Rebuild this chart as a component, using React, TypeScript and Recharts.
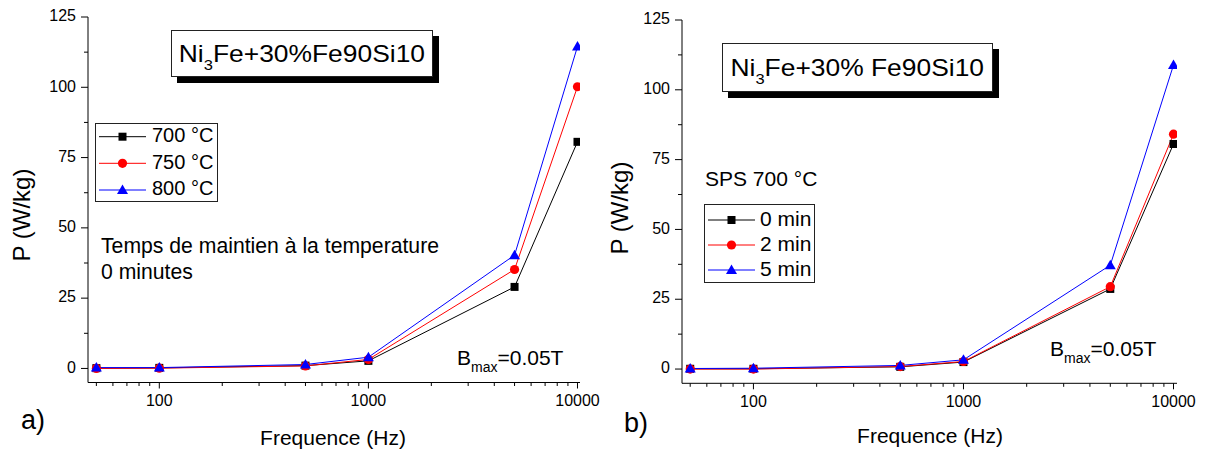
import React from 'react';
import { LineChart, Line, XAxis, YAxis } from 'recharts';

const FREQ = [50, 100, 500, 1000, 5000, 10000];
const A_700 = [0.1, 0.2, 1.0, 2.7, 29.0, 80.6];
const A_750 = [0.0, 0.1, 0.9, 3.2, 35.2, 100.2];
const A_800 = [0.3, 0.3, 1.4, 4.0, 40.3, 114.5];
const B_0 = [0.1, 0.1, 0.8, 2.5, 28.7, 80.6];
const B_2 = [0.0, 0.0, 0.9, 2.7, 29.5, 84.1];
const B_5 = [0.2, 0.3, 1.3, 3.3, 37.2, 108.9];

const X_MAJOR = [100, 1000, 10000];
const X_MINOR = [50, 60, 70, 80, 90, 200, 300, 400, 500, 600, 700, 800, 900, 2000, 3000, 4000, 5000, 6000, 7000, 8000, 9000];
const Y_MAJOR = [0, 25, 50, 75, 100, 125];
const Y_MINOR = [12.5, 37.5, 62.5, 87.5, 112.5];

const LEGEND_A = ['700 °C', '750 °C', '800 °C'];
const LEGEND_B = ['0 min', '2 min', '5 min'];

const FONT = '"Liberation Sans", Arial, Helvetica, sans-serif';
const COLORS = ['#000000', '#ff0000', '#0000ff'];

function buildData(a: number[], b: number[], c: number[]) {
  return FREQ.map((f, i) => ({ f, s0: a[i], s1: b[i], s2: c[i] }));
}

const Square = (p: any) => {
  const { cx, cy, index } = p;
  if (cx == null || cy == null) return <g key={'sq' + index} />;
  return <rect key={'sq' + index} x={cx - 4} y={cy - 4} width={8} height={8} fill="#000" />;
};
const Circle = (p: any) => {
  const { cx, cy, index } = p;
  if (cx == null || cy == null) return <g key={'ci' + index} />;
  return <circle key={'ci' + index} cx={cx} cy={cy} r={4.6} fill="#ff0000" />;
};
const Tri = (p: any) => {
  const { cx, cy, index } = p;
  if (cx == null || cy == null) return <g key={'tr' + index} />;
  return <path key={'tr' + index} d={`M${cx},${cy - 5.5} L${cx + 5.5},${cy + 4} L${cx - 5.5},${cy + 4} Z`} fill="#0000ff" />;
};
const DOTS = [Square, Circle, Tri];

const XTick = (p: any) => {
  const { x, y, payload } = p;
  const v = payload.value;
  const major = X_MAJOR.includes(v);
  return (
    <g>
      <line x1={x} x2={x} y1={y} y2={y + (major ? 6 : 3.5)} stroke="#000" strokeWidth={1} />
      {major && (
        <text x={x} y={y + 19} textAnchor="middle" dominantBaseline="middle" fontSize={16} fontFamily={FONT} fill="#000">
          {v}
        </text>
      )}
    </g>
  );
};

const YTick = (p: any) => {
  const { x, y, payload } = p;
  const v = payload.value;
  const major = Y_MAJOR.includes(v);
  return (
    <g>
      <line x1={x - (major ? 7 : 4)} x2={x} y1={y} y2={y} stroke="#000" strokeWidth={1} />
      {major && (
        <text x={x - 12} y={y} textAnchor="end" dominantBaseline="middle" fontSize={16} fontFamily={FONT} fill="#000">
          {v}
        </text>
      )}
    </g>
  );
};

type PanelProps = {
  data: any[];
  width: number;
  margin: { top: number; right: number; bottom: number; left: number };
  xDomain: [number, number];
  yDomain: [number, number];
  names: string[];
};

function Panel({ data, width, margin, xDomain, yDomain, names }: PanelProps) {
  return (
    <LineChart width={width} height={450} data={data} margin={margin}>
      <XAxis
        dataKey="f"
        type="number"
        scale="log"
        domain={xDomain}
        allowDataOverflow
        ticks={[...X_MINOR, ...X_MAJOR].sort((a, b) => a - b)}
        interval={0}
        tickSize={0}
        tickMargin={0}
        tickLine={false}
        tick={<XTick />}
        axisLine={{ stroke: '#000', strokeWidth: 1 }}
        height={30}
      />
      <YAxis
        type="number"
        domain={yDomain}
        allowDataOverflow
        ticks={[...Y_MAJOR, ...Y_MINOR].sort((a, b) => a - b)}
        interval={0}
        tickSize={0}
        tickMargin={0}
        tickLine={false}
        tick={<YTick />}
        axisLine={{ stroke: '#000', strokeWidth: 1 }}
        width={60}
      />
      {['s0', 's1', 's2'].map((k, i) => (
        <Line
          key={k}
          name={names[i]}
          dataKey={k}
          stroke={COLORS[i]}
          strokeWidth={1}
          dot={DOTS[i]}
          activeDot={false}
          isAnimationActive={false}
        />
      ))}
    </LineChart>
  );
}

const abs = (s: React.CSSProperties): React.CSSProperties => ({
  position: 'absolute',
  fontFamily: FONT,
  color: '#000',
  whiteSpace: 'nowrap',
  lineHeight: 1,
  ...s,
});

function TitleBox({ left, top, w, h, text }: { left: number; top: number; w: number; h: number; text: string }) {
  return (
    <div
      style={abs({
        left,
        top,
        width: w,
        height: h,
        boxSizing: 'border-box',
        border: '1px solid #222',
        background: '#fff',
        boxShadow: '6px 6px 0 #000',
        display: 'flex',
        alignItems: 'center',
        justifyContent: 'center',
      })}
    >
      <span style={{ fontSize: 24, display: 'inline-block', transform: 'scaleX(1.1)' }}>
        Ni<span style={{ fontSize: 15, position: 'relative', top: 8 }}>3</span>
        {text}
      </span>
    </div>
  );
}

function LegendBox({ left, top, w, h, rows, lineX0, lineX1, textX, names, fontSize }: any) {
  return (
    <div style={abs({ left, top, width: w, height: h, boxSizing: 'border-box', border: '1px solid #222', background: '#fff' })}>
      <svg width={w} height={h} style={{ position: 'absolute', left: -1, top: -1, overflow: 'visible' }}>
        {names.map((n: string, i: number) => {
          const y = rows[i] - top;
          const mx = (lineX0 + lineX1) / 2 - left;
          const D = DOTS[i];
          return (
            <g key={n}>
              <line x1={lineX0 - left} x2={lineX1 - left} y1={y} y2={y} stroke={COLORS[i]} strokeWidth={1} />
              {D({ cx: mx, cy: y, index: i })}
              <text x={textX - left} y={y} dominantBaseline="middle" fontSize={fontSize} fontFamily={FONT} fill="#000">
                {n}
              </text>
            </g>
          );
        })}
      </svg>
    </div>
  );
}

function Bmax({ left, cy }: { left: number; cy: number }) {
  return (
    <div style={abs({ left, top: cy, transform: 'translateY(-50%)', fontSize: 21 })}>
      B<span style={{ fontSize: 14, position: 'relative', top: 7 }}>max</span>=0.05T
    </div>
  );
}

export default function App() {
  const dataA = buildData(A_700, A_750, A_800);
  const dataB = buildData(B_0, B_2, B_5);
  return (
    <div style={{ position: 'absolute', left: 0, top: 0, width: 1206, height: 450, background: '#fff', overflow: 'hidden' }}>
      <div style={{ position: 'absolute', left: 0, top: 0 }}>
        <Panel
          data={dataA}
          width={600}
          margin={{ top: 17, right: 20, bottom: 37.5, left: 28 }}
          xDomain={[45.6, 10280]}
          yDomain={[-5.0, 125]}
          names={LEGEND_A}
        />
      </div>
      <div style={{ position: 'absolute', left: 600, top: 0 }}>
        <Panel
          data={dataB}
          width={606}
          margin={{ top: 20, right: 29, bottom: 36.7, left: 22 }}
          xDomain={[45.7, 10390]}
          yDomain={[-5.1, 125]}
          names={LEGEND_B}
        />
      </div>

      {/* Panel a overlays */}
      <TitleBox left={171} top={30} w={262} h={47} text="Fe+30%Fe90Si10" />
      <LegendBox left={95} top={123} w={123} h={79} rows={[136.7, 163.3, 190]} lineX0={99} lineX1={146} textX={152} names={LEGEND_A} fontSize={20} />
      <div style={abs({ left: 101, top: 245.7, transform: 'translateY(-50%)', fontSize: 21.2 })}>Temps de maintien à la temperature</div>
      <div style={abs({ left: 101, top: 271.7, transform: 'translateY(-50%)', fontSize: 21.2 })}>0 minutes</div>
      <Bmax left={457} cy={357} />
      <div style={abs({ left: 333, top: 437, transform: 'translate(-50%,-50%)', fontSize: 21 })}>Frequence (Hz)</div>
      <div style={abs({ left: 33, top: 420, transform: 'translate(-50%,-50%)', fontSize: 27 })}>a)</div>
      <div style={abs({ left: 22, top: 215, transform: 'translate(-50%,-50%) rotate(-90deg)', fontSize: 24 })}>P (W/kg)</div>

      {/* Panel b overlays */}
      <TitleBox left={722} top={43} w={271} h={49} text="Fe+30% Fe90Si10" />
      <div style={abs({ left: 705, top: 178, transform: 'translateY(-50%)', fontSize: 21 })}>SPS 700 °C</div>
      <LegendBox left={704} top={204} w={111} h={79} rows={[220, 245, 270]} lineX0={708} lineX1={755} textX={760} names={LEGEND_B} fontSize={21} />
      <Bmax left={1050} cy={348} />
      <div style={abs({ left: 930, top: 435, transform: 'translate(-50%,-50%)', fontSize: 21 })}>Frequence (Hz)</div>
      <div style={abs({ left: 636, top: 423, transform: 'translate(-50%,-50%)', fontSize: 27 })}>b)</div>
      <div style={abs({ left: 620, top: 208, transform: 'translate(-50%,-50%) rotate(-90deg)', fontSize: 24 })}>P (W/kg)</div>
    </div>
  );
}
